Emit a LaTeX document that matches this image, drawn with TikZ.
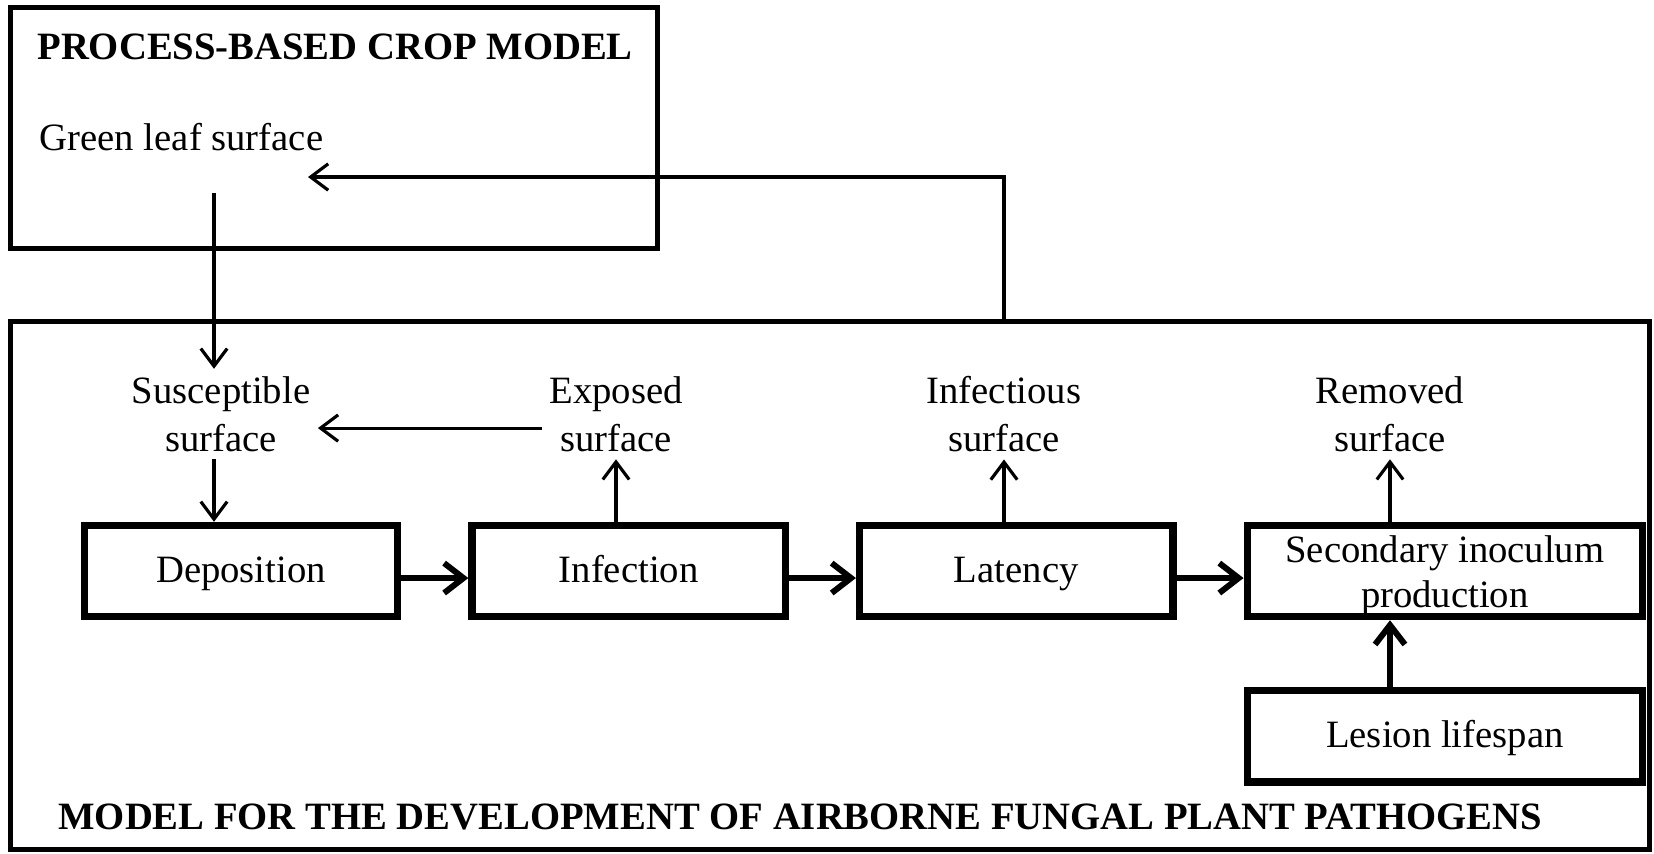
\documentclass[tikz,border=0pt]{standalone}
\usepackage{fontspec}
\setmainfont{Liberation Serif}
\usetikzlibrary{arrows.meta,positioning}

\begin{document}
\begin{tikzpicture}[
    x=0.01cm,
    y=-0.01cm,
    font=\fontsize{11}{13.6}\selectfont,
    frame/.style={
        rectangle,
        draw,
        line width=1.4pt
    },
    stage/.style={
        rectangle,
        draw,
        line width=2.1pt,
        minimum width=3.13cm,
        minimum height=0.91cm,
        text height=0.85em,
        text depth=0.22em,
        text centered
    },
    twoline/.style={
        align=center,
        yshift=-1.25pt,
        font=\fontsize{11}{12.8}\selectfont
    },
    state/.style={
        align=center,
        inner sep=2pt
    },
    heading/.style={
        font=\fontsize{11}{13.6}\selectfont\bfseries,
        anchor=west
    },
    link/.style={
        draw,
        -{Straight Barb[length=5pt,width=7.5pt]},
        line width=0.9pt
    },
    flow/.style={
        draw,
        -{Straight Barb[length=5.5pt,width=8.5pt]},
        line width=1.7pt
    }
]
\useasboundingbox (0,0) rectangle (1654,853);

% Frames
\node [frame, minimum width=6.46cm, minimum height=2.40cm] (crop) at (334,128) {};
\node [frame, minimum width=16.38cm, minimum height=5.27cm] (disease) at (830,585.5) {};

% Nodes
\node [heading] (croptitle) at (25,47) {PROCESS-BASED CROP MODEL};
\node [state, anchor=west] (green) at (32,137) {Green leaf surface};
\node [state] (susc) at (221,414) {Susceptible\\surface};
\node [state] (expo) at (616,414) {Exposed\\surface};
\node [state] (infs) at (1004,414) {Infectious\\surface};
\node [state] (remv) at (1390,414) {Removed\\surface};
\node [stage] (depo) at (241,571) {Deposition};
\node [stage, right=0.67cm of depo] (infe) {Infection};
\node [stage, right=0.67cm of infe] (late) {Latency};
\node [stage, right=0.67cm of late, minimum width=3.95cm,
    label={[twoline]center:{Secondary inoculum\\production}}] (seco) {};
\node [stage, below=0.665cm of seco, minimum width=3.95cm, minimum height=0.915cm] (lesi) {Lesion lifespan};
\node [heading] (distitle) at (46,817) {MODEL FOR THE DEVELOPMENT OF AIRBORNE FUNGAL PLANT PATHOGENS};
\coordinate (gfoot) at (214,193);
\coordinate (gtip) at (308,177);

% Edges
\path [link] (gfoot) -- (gfoot |- susc.north);
\path [link] (susc.south -| gfoot) -- (gfoot |- depo.north);
\path [link] ([yshift=-4pt]expo.west) -- ([yshift=-4pt]susc.east);
\path [link] (infe.north -| expo) -- (expo.south);
\path [link] (late.north -| infs) -- (infs.south);
\path [link] (seco.north -| remv) -- (remv.south);
\path [link] (disease.north -| infs) |- (gtip);
\path [flow] ([yshift=-2pt]depo.east) -- ([yshift=-2pt]infe.west);
\path [flow] ([yshift=-2pt]infe.east) -- ([yshift=-2pt]late.west);
\path [flow] ([yshift=-2pt]late.east) -- ([yshift=-2pt]seco.west);
\path [flow] (lesi.north -| remv) -- (seco.south -| remv);

\end{tikzpicture}
\end{document}
